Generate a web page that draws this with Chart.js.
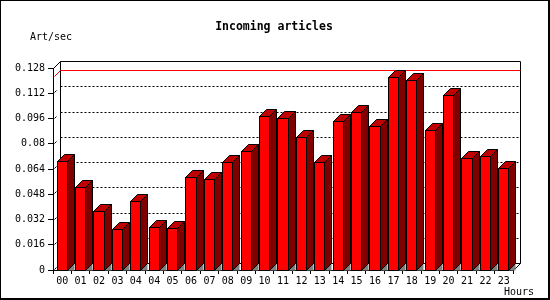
<!DOCTYPE html>
<html>
<head>
<meta charset="utf-8">
<script src="https://cdn.jsdelivr.net/npm/chart.js@4/dist/chart.umd.min.js"></script>
<style>
  html, body { margin: 0; padding: 0; background: #ffffff; }
  #wrap { width: 550px; height: 300px; }
  canvas { display: block; }
</style>
</head>
<body>
<div id="wrap"><canvas id="c" width="550" height="300"></canvas></div>
<script>
// ---- data ----
const hourLabels = ['00','01','02','03','04','04','05','06','07','08','09','10','11','12','13','14','15','16','17','18','19','20','21','22','23'];
const artPerSec = [0.0689,0.0526,0.0374,0.0258,0.0435,0.0271,0.0264,0.0587,0.0575,0.0684,0.0754,0.0976,0.0963,0.0843,0.0684,0.0944,0.1001,0.0911,0.1221,0.1204,0.0885,0.1107,0.0708,0.0720,0.0646];
const yTickValues = [0,0.016,0.032,0.048,0.064,0.08,0.096,0.112,0.128];
const yTickLabels = ['0','0.016','0.032','0.048','0.064','0.08','0.096','0.112','0.128'];
const titleText = 'Incoming articles';
const yUnitText = 'Art/sec';
const xUnitText = 'Hours';

// ---- style ----
const DEPTH = 7;
const FRONT = '#ff0000', SIDE = '#800000', TOP = '#c00000', SHADOW = '#808080';
const MONO = "'DejaVu Sans Mono', 'Liberation Mono', monospace";

function line(ctx, x1, y1, x2, y2) {
  ctx.beginPath(); ctx.moveTo(x1, y1); ctx.lineTo(x2, y2); ctx.stroke();
}

const threeD = {
  id: 'threeD',
  beforeDraw(chart) {
    const ctx = chart.ctx;
    ctx.save();
    ctx.fillStyle = '#ffffff';
    ctx.fillRect(0, 0, chart.width, chart.height);
    ctx.restore();
  },
  beforeDatasetsDraw(chart) {
    const ctx = chart.ctx;
    const ca = chart.chartArea;
    const ys = chart.scales.y;
    const d = DEPTH;
    const L = Math.round(ca.left) + 0.5, R = Math.round(ca.right) + 0.5;
    const T = Math.round(ca.top) + 0.5, B = Math.round(ca.bottom) + 0.5;
    ctx.save();
    ctx.lineWidth = 1;
    ctx.strokeStyle = '#000';
    // dotted grid lines on the back wall
    ctx.setLineDash([2, 2]);
    yTickValues.forEach((v, i) => {
      if (i === 0 || i === yTickValues.length - 1) return;
      const py = Math.round(ys.getPixelForValue(v)) + 0.5 - d;
      line(ctx, L + d, py, R + d, py);
    });
    ctx.setLineDash([]);
    // small stubs on left wall
    yTickValues.forEach((v, i) => {
      if (i === yTickValues.length - 1) return;
      const py = Math.round(ys.getPixelForValue(v)) + 0.5;
      line(ctx, L + 1, py - 1, L + 3, py - 3);
    });
    // back wall frame
    line(ctx, L, T, L + d, T - d);
    line(ctx, L + d, T - d, R + d, T - d);
    line(ctx, R + d, T - d, R + d, B - d);
    line(ctx, L + d, T - d, L + d, B - d);
    line(ctx, L + d, B - d, R + d, B - d);
    line(ctx, R, B, R + d, B - d);
    // max line in red
    const maxV = Math.max(...artPerSec);
    const my = Math.round(ys.getPixelForValue(maxV)) + 0.5;
    ctx.strokeStyle = '#ff0000';
    line(ctx, L + d, my - d, R + d, my - d);
    line(ctx, L + 1, my - 1, L + d, my - d);
    ctx.restore();
  },
  afterDatasetsDraw(chart) {
    const ctx = chart.ctx;
    const d = DEPTH;
    const meta = chart.getDatasetMeta(0);
    ctx.save();
    ctx.lineWidth = 1;
    ctx.strokeStyle = '#000';
    meta.data.forEach((bar) => {
      const p = bar.getProps(['x', 'y', 'base', 'width'], true);
      const xL = Math.round(p.x - p.width / 2) + 0.5;
      const xR = Math.round(p.x + p.width / 2) - 0.5;
      const yT = Math.round(p.y) + 0.5;
      const yB = Math.round(p.base) + 0.5;
      // shadow on floor
      ctx.fillStyle = SHADOW;
      ctx.beginPath();
      ctx.moveTo(xR, yB); ctx.lineTo(xR + d, yB - d); ctx.lineTo(xR + d, yB); ctx.closePath();
      ctx.fill();
      // side face
      ctx.fillStyle = SIDE;
      ctx.beginPath();
      ctx.moveTo(xR, yT); ctx.lineTo(xR + d, yT - d); ctx.lineTo(xR + d, yB - d); ctx.lineTo(xR, yB); ctx.closePath();
      ctx.fill(); ctx.stroke();
      // top face
      ctx.fillStyle = TOP;
      ctx.beginPath();
      ctx.moveTo(xL, yT); ctx.lineTo(xL + d, yT - d); ctx.lineTo(xR + d, yT - d); ctx.lineTo(xR, yT); ctx.closePath();
      ctx.fill(); ctx.stroke();
      // front face
      ctx.fillStyle = FRONT;
      ctx.fillRect(xL, yT, xR - xL, yB - yT);
      ctx.strokeRect(xL, yT, xR - xL, yB - yT);
    });
    ctx.restore();
  },
  afterDraw(chart) {
    const ctx = chart.ctx;
    ctx.save();
    ctx.fillStyle = '#000';
    ctx.textBaseline = 'middle';
    ctx.font = "bold 11.5px " + MONO;
    ctx.textAlign = 'center';
    ctx.fillText(titleText, 274, 27);
    ctx.font = "10px " + MONO;
    ctx.textAlign = 'left';
    ctx.fillText(yUnitText, 30, 37);
    ctx.textAlign = 'right';
    ctx.fillText(xUnitText, 534, 292);
    // outer frame
    ctx.fillRect(0, 0, 550, 1);
    ctx.fillRect(0, 0, 1, 300);
    ctx.fillRect(548, 0, 2, 300);
    ctx.fillRect(0, 298, 550, 2);
    ctx.restore();
  }
};

new Chart(document.getElementById('c'), {
  type: 'bar',
  data: {
    labels: hourLabels,
    datasets: [{
      data: artPerSec,
      backgroundColor: 'rgba(0,0,0,0)',
      borderWidth: 0,
      categoryPercentage: 1.0,
      barPercentage: 0.6
    }]
  },
  options: {
    responsive: false,
    devicePixelRatio: 1,
    animation: false,
    layout: { padding: { left: 0, right: 37, top: 68, bottom: 0 } },
    plugins: { legend: { display: false }, title: { display: false }, tooltip: { enabled: false } },
    scales: {
      x: {
        offset: true,
        grid: { display: true, drawOnChartArea: false, drawTicks: true, tickLength: 4, color: '#000', offset: true },
        border: { display: true, color: '#000', width: 1 },
        ticks: { color: '#000', font: { family: MONO, size: 10 }, autoSkip: false, maxRotation: 0, minRotation: 0, padding: 1 },
        afterFit(scale) { scale.height = 30; }
      },
      y: {
        min: 0,
        max: 0.128,
        grid: { display: true, drawOnChartArea: false, drawTicks: true, tickLength: 5, color: '#000' },
        border: { display: true, color: '#000', width: 1 },
        ticks: {
          color: '#000', font: { family: MONO, size: 10 }, padding: 3,
          callback: (v, i) => yTickLabels[i]
        },
        afterBuildTicks(scale) { scale.ticks = yTickValues.map(v => ({ value: v })); },
        afterFit(scale) { scale.width = 53; }
      }
    }
  },
  plugins: [threeD]
});
</script>
</body>
</html>
